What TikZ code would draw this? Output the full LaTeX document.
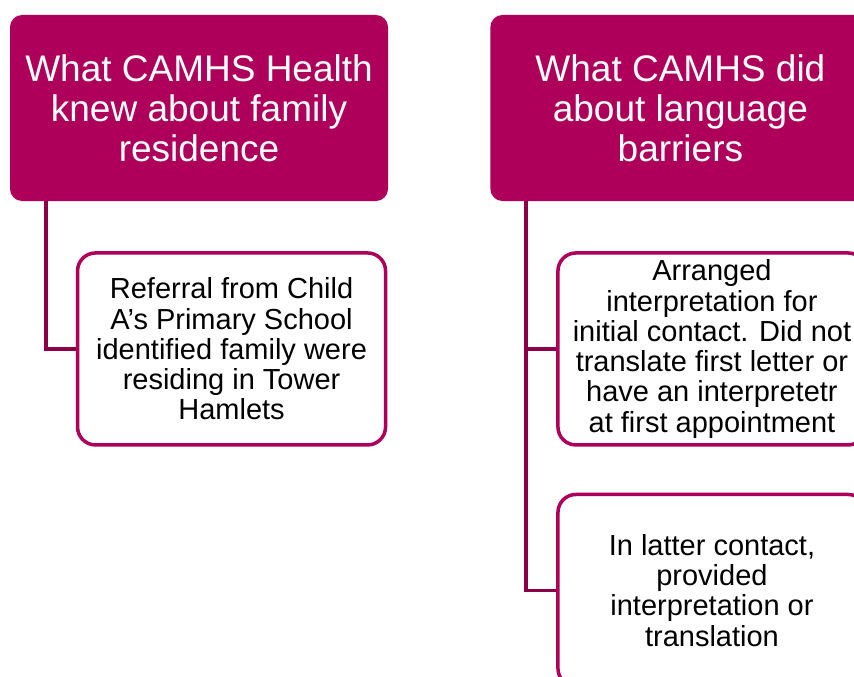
\documentclass[tikz,border=0pt]{standalone}
\usepackage{fontspec}
\setmainfont{Liberation Sans}
\usetikzlibrary{positioning,calc}

\definecolor{headfill}{HTML}{AE005A}
\definecolor{linkcol}{HTML}{8C0049}

\begin{document}
\begin{tikzpicture}
  \useasboundingbox (0,0) rectangle (854pt,-677pt);
  \clip (0,0) rectangle (854pt,-677pt);
  \begin{scope}[
    every node/.style={
      rectangle,
      align=center,
      inner sep=0pt,
    },
    headbox/.style={
      fill=headfill,
      text=white,
      rounded corners=12pt,
      minimum width=378pt,
      minimum height=186pt,
      font=\fontsize{37}{40}\selectfont,
    },
    itembox/.style={
      draw=headfill,
      fill=white,
      line width=3.5pt,
      rounded corners=18pt,
      minimum width=308pt,
      minimum height=192pt,
      font=\fontsize{29}{30.3}\selectfont,
    },
    setanchor/.style={
      anchor=north west,
    },
    ]
    % H1
    \node [headbox] (H1) at (199pt,-108pt)
    {What CAMHS Health\\knew about family\\residence};

    % H2
    \node [headbox,right=102pt of H1.north east,setanchor,minimum width=380pt] (H2)
    {What CAMHS did\\about language\\barriers};

    % C1
    \node [itembox,below right=50pt and 66pt of H1.south west] (C1)
    {Referral from Child\\A’s Primary School\\identified family were\\residing in Tower\\Hamlets};

    % C2
    \node [itembox,below right=50pt and 66pt of H2.south west] (C2)
    {Arranged\\interpretation for\\initial contact. Did not\\translate first letter or\\have an interpretetr\\at first appointment};

    % C3
    \node [itembox,below=46pt of C2] (C3)
    {In latter contact,\\provided\\interpretation or\\translation};
  \end{scope}
  \begin{scope}[
    link/.style={
      draw=linkcol,
      line width=3.5pt,
    },
    ]
    % Path H1
    \coordinate (oH1) at ($(H1.south west)+(36pt,0)$);
    \draw [link] (oH1) |- (C1.west);

    % Path H2
    \coordinate (oH2) at ($(H2.south west)+(36pt,0)$);
    \draw [link] (oH2) |- (C2.west);
    \draw [link] (oH2) |- (C3.west);
  \end{scope}
\end{tikzpicture}
\end{document}
